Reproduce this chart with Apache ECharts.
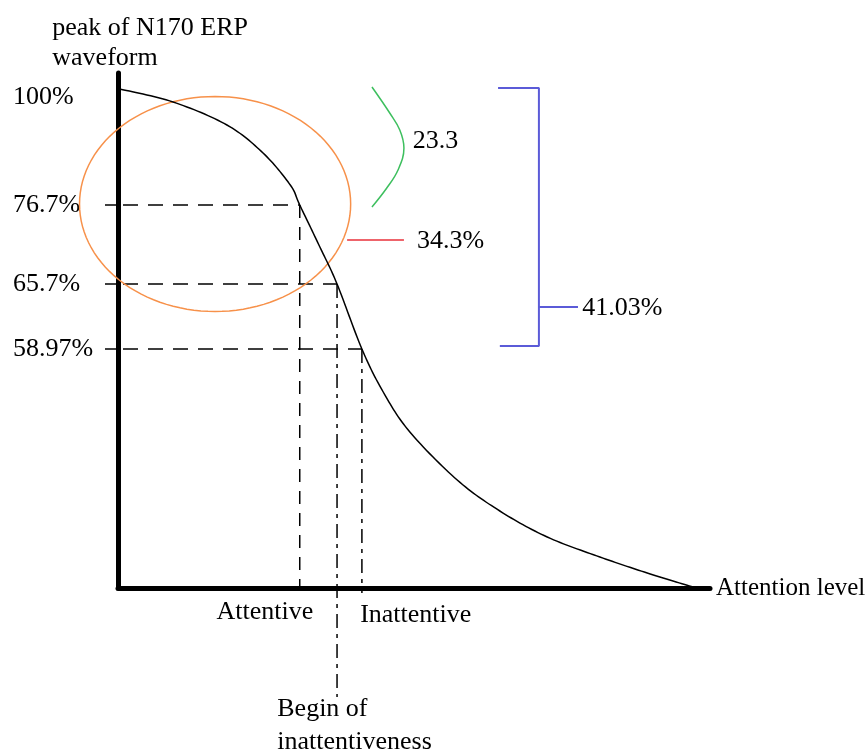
<!DOCTYPE html>
<html><head><meta charset="utf-8">
<script src="https://cdn.jsdelivr.net/npm/echarts@6/dist/echarts.min.js"></script>
<style>html,body{margin:0;padding:0;background:#fff}#c{width:865px;height:755px}</style>
</head><body><div id="c"></div>
<script>
// ---- data (abstract diagram units: x 0..100 attention level, y 0..103 peak level) ----
const curveX = [0.3, 9.3, 18.4, 24.5, 29.1, 30.7, 34.1, 37.0, 41.2, 44.8, 49.3, 57.3, 64.5, 72.5, 81.4, 89.4, 97.1];
const curveY = [99.8, 97.2, 92.6, 87.0, 80.6, 76.6, 68.2, 60.8, 47.8, 39.2, 31.2, 21.6, 15.4, 10.2, 6.2, 3.0, 0.2];
const levelLabels = ['100%', '76.7%', '65.7%', '58.97%'];
const levelValues = [98.2, 76.6, 60.8, 47.8];
const markX = [30.7, 37.0, 41.2];          // Attentive, Begin of inattentiveness, Inattentive
const markY = [76.6, 60.8, 47.8];
const markBottom = [0, -21.8, -1];
const markLabels = ['Attentive', 'Begin of\ninattentiveness', 'Inattentive'];
const annotationLabels = ['23.3', '34.3%', '41.03%'];
const greenArcX = [42.9, 45.9, 47.6, 48.3, 47.3, 45.4, 42.9];
const greenArcY = [100.2, 95.0, 91.6, 88.0, 83.6, 80.0, 76.2];
const redLineX = [38.7, 48.3];
const redLineY = [69.6, 69.6];
const bracketX = [64.2, 71.1, 71.1, 64.5];
const bracketY = [100.0, 100.0, 48.4, 48.4];
const bracketTickX = [71.1, 77.7];
const bracketTickY = [56.2, 56.2];
const ellipseCenter = [16.4, 76.8];
const ellipseRadius = [22.9, 21.5];
const yAxisTitle = 'peak of N170 ERP\nwaveform';
const xAxisTitle = 'Attention level';

const FONT = 'Liberation Serif';
const FS = 26;
const zip = (xs, ys) => xs.map((x, i) => [x, ys[i]]);

const series = [];
// main curve: read points, drawn as a smooth spline in the axis coordinate system
series.push({type:'custom', clip:false, data:[[curveX[0], curveY[0]]], z:5,
  renderItem:(params, api) => {
    const P = curveX.map((x, i) => api.coord([x, curveY[i]]));
    const pts = [];
    for (let i = 0; i < P.length - 1; i++) {
      const p0 = P[Math.max(i - 1, 0)], p1 = P[i], p2 = P[i + 1], p3 = P[Math.min(i + 2, P.length - 1)];
      for (let s = 0; s < 16; s++) {
        const t = s / 16, t2 = t * t, t3 = t2 * t;
        const f = (a, b, c, d) => 0.5 * ((2 * b) + (-a + c) * t + (2 * a - 5 * b + 4 * c - d) * t2 + (-a + 3 * b - 3 * c + d) * t3);
        pts.push([f(p0[0], p1[0], p2[0], p3[0]), f(p0[1], p1[1], p2[1], p3[1])]);
      }
    }
    pts.push(P[P.length - 1]);
    return {type:'polyline', shape:{points:pts}, style:{stroke:'#000', lineWidth:1.5, fill:null}};
  }});
// horizontal dashed guide lines
markX.forEach((x, i) => {
  series.push({type:'line', data:[[0, markY[i]], [x, markY[i]]], symbol:'none', clip:false,
    lineStyle:{color:'#000', width:1.5, type:[15,10], dashOffset:-5}, z:3});
});
// vertical guide lines
const vTypes = [[13,9], [14,6,4,6], [14,6,4,6]];
markX.forEach((x, i) => {
  series.push({type:'line', data:[[x, markY[i]], [x, markBottom[i]]], symbol:'none', clip:false,
    lineStyle:{color:'#000', width:1.5, type:vTypes[i]}, z:3});
});
// orange ellipse
series.push({type:'custom', clip:false, data:[[ellipseCenter[0], ellipseCenter[1], ellipseRadius[0], ellipseRadius[1]]],
  renderItem:(params, api) => {
    const c = api.coord([api.value(0), api.value(1)]);
    const s = api.size([api.value(2), api.value(3)]);
    const pts = [];
    for (let k = 0; k <= 120; k++) {
      const t = k / 120 * Math.PI * 2;
      pts.push([c[0] + s[0] * Math.cos(t), c[1] + s[1] * Math.sin(t)]);
    }
    return {type:'polyline', shape:{points:pts}, style:{stroke:'#f7914a', lineWidth:1.5, fill:null}};
  }, z:4});
// green arc
series.push({type:'line', data: zip(greenArcX, greenArcY), smooth:0.4, symbol:'none', clip:false,
  lineStyle:{color:'#3dbf5e', width:1.5}});
// red line
series.push({type:'line', data: zip(redLineX, redLineY), symbol:'none', clip:false,
  lineStyle:{color:'#e8303a', width:1.5}});
// blue bracket
series.push({type:'line', data: zip(bracketX, bracketY), symbol:'none', clip:false,
  lineStyle:{color:'#5b5bd8', width:2}});
series.push({type:'line', data: zip(bracketTickX, bracketTickY), symbol:'none', clip:false,
  lineStyle:{color:'#5b5bd8', width:2}});

// text labels
const txt = (value, text, align, lineHeight) => ({value, label:{show:true, formatter:text, align,
  verticalAlign:'middle', position:[0,0], color:'#000', textBorderWidth:0, opacity:1,
  fontFamily:FONT, fontSize:FS, lineHeight: lineHeight || 30}});
series.push({type:'scatter', symbolSize:0, clip:false, itemStyle:{color:'#000'}, silent:true, z:10,
  data:[
    txt([-11.1, 109.0], yAxisTitle, 'left', 30),
    txt([24.8, -4.8], markLabels[0], 'center'),
    txt([26.9, -27.6], markLabels[1], 'left', 33),
    txt([40.9, -5.4], markLabels[2], 'left'),
    txt([49.8, 89.4], annotationLabels[0], 'left'),
    txt([50.5, 69.4], annotationLabels[1], 'left'),
    txt([78.4, 56.0], annotationLabels[2], 'left')
  ]});

const chart = echarts.init(document.getElementById('c'));
chart.setOption({
  animation:false,
  backgroundColor:'#fff',
  grid:{left:118, right:155, top:73, bottom:167, containLabel:false, outerBoundsMode:'none'},
  xAxis:{type:'value', min:0, max:100, splitLine:{show:false}, axisTick:{show:false}, axisLabel:{show:false},
    axisLine:{show:true, lineStyle:{color:'#000', width:5}},
    name:xAxisTitle, nameLocation:'end', nameGap:6,
    nameTextStyle:{color:'#000', fontFamily:FONT, fontSize:25, padding:[0,0,14,0]}},
  yAxis:{type:'value', min:0, max:103, splitLine:{show:false},
    axisLine:{show:true, onZero:false, lineStyle:{color:'#000', width:5}},
    axisTick:{show:true, customValues:markY, length:13, lineStyle:{color:'#000', width:1.5}},
    axisLabel:{show:true, customValues:levelValues, align:'left', margin:105, color:'#000', fontFamily:FONT, fontSize:FS,
      formatter:(v) => { let best = 0; levelValues.forEach((lv, i) => { if (Math.abs(lv - v) < Math.abs(levelValues[best] - v)) best = i; }); return levelLabels[best]; }}},
  series
});
</script></body></html>
